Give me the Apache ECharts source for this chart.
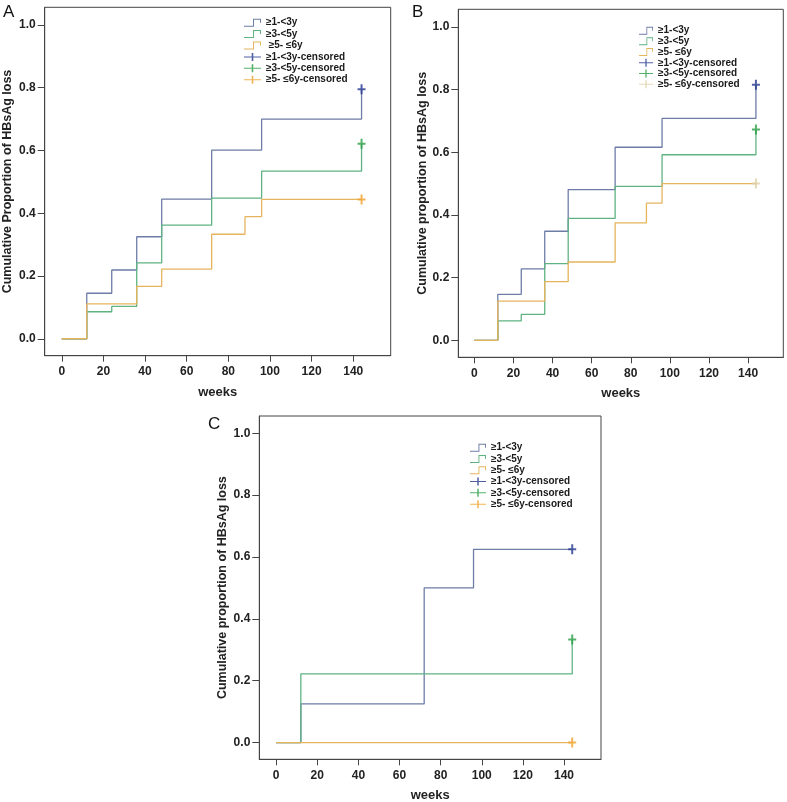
<!DOCTYPE html>
<html><head><meta charset="utf-8">
<script src="https://cdn.jsdelivr.net/npm/echarts@6/dist/echarts.min.js"></script>
<style>html,body{margin:0;padding:0;background:#fff}#c{width:787px;height:802px}</style>
</head><body><div id="c"></div>
<script>
// ---- labels ----
const groupLabels = ['≥1-<3y', '≥3-<5y', '≥5- ≤6y'];
const groupLabelsA = ['≥1-<3y', '≥3-<5y', ' ≥5- ≤6y'];
const censoredSuffix = '-censored';
const panelLetters = ['A', 'B', 'C'];
const yTitles = ['Cumulative Proportion of HBsAg loss', 'Cumulative proportion of HBsAg loss', 'Cumulative proportion of HBsAg loss'];
const xTitle = 'weeks';
const xTicks = [0, 20, 40, 60, 80, 100, 120, 140];
const yTicks = [0, 0.2, 0.4, 0.6, 0.8, 1.0];

// ---- Panel A ----
const A_g1_weeks = [0, 12, 24, 36, 48, 72, 96, 144];
const A_g1_cum   = [0, 0.145, 0.219, 0.325, 0.445, 0.601, 0.700, 0.795];
const A_g2_weeks = [0, 12, 24, 36, 48, 72, 96, 144];
const A_g2_cum   = [0, 0.086, 0.103, 0.242, 0.362, 0.448, 0.534, 0.621];
const A_g3_weeks = [0, 12, 36, 48, 72, 88, 96, 144];
const A_g3_cum   = [0, 0.111, 0.167, 0.222, 0.333, 0.389, 0.444, 0.444];
const A_cens_weeks = [144, 144, 144];
const A_cens_cum   = [0.795, 0.621, 0.444];

// ---- Panel B ----
const B_g1_weeks = [0, 12, 24, 36, 48, 72, 96, 144];
const B_g1_cum   = [0, 0.147, 0.228, 0.348, 0.481, 0.616, 0.708, 0.815];
const B_g2_weeks = [0, 12, 24, 36, 48, 72, 96, 144];
const B_g2_cum   = [0, 0.0625, 0.083, 0.245, 0.389, 0.491, 0.592, 0.673];
const B_g3_weeks = [0, 12, 36, 48, 72, 88, 96, 144];
const B_g3_cum   = [0, 0.125, 0.1875, 0.25, 0.375, 0.4375, 0.5, 0.5];
const B_cens_weeks = [144, 144, 144];
const B_cens_cum   = [0.815, 0.673, 0.5];

// ---- Panel C ----
const C_g1_weeks = [0, 12, 72, 96, 144];
const C_g1_cum   = [0, 0.125, 0.5, 0.625, 0.625];
const C_g2_weeks = [0, 12, 144];
const C_g2_cum   = [0, 0.222, 0.333];
const C_g3_weeks = [0, 144];
const C_g3_cum   = [0, 0];
const C_cens_weeks = [144, 144, 144];
const C_cens_cum   = [0.625, 0.333, 0];

const panels = [
  { g: [[A_g1_weeks, A_g1_cum], [A_g2_weeks, A_g2_cum], [A_g3_weeks, A_g3_cum]], cw: A_cens_weeks, cc: A_cens_cum, labels: groupLabelsA },
  { g: [[B_g1_weeks, B_g1_cum], [B_g2_weeks, B_g2_cum], [B_g3_weeks, B_g3_cum]], cw: B_cens_weeks, cc: B_cens_cum, labels: groupLabels },
  { g: [[C_g1_weeks, C_g1_cum], [C_g2_weeks, C_g2_cum], [C_g3_weeks, C_g3_cum]], cw: C_cens_weeks, cc: C_cens_cum, labels: groupLabels }
];

// ---- styles ----
const lineColors = ['#6e7ca8', '#5fb383', '#e6b45c'];
const censColors = [
  ['#25388e', '#2a9d45', '#f0a02a'],
  ['#25388e', '#2a9d45', '#dccfa5'],
  ['#25388e', '#2a9d45', '#f0a02a']
];
const grids = [
  { left: 44.7, top: 7.3, width: 346, height: 348.4 },
  { left: 458.3, top: 9.3, width: 325, height: 348 },
  { left: 259.3, top: 416, width: 341.7, height: 343.3 }
];
const legendPos = [
  { left: 244, top: 17, w: 17, lh: 11.4 },
  { left: 639, top: 25.3, w: 14, lh: 10.7 },
  { left: 470, top: 442, w: 16, lh: 11.3 }
];
const letterPos = [[3, 4], [412, 4], [208, 416]];
const yNameGap = [31, 29, 30];

const stepIcon = 'path://M0,7L9,7L9,0L17,0L17,4L16,4L16,1L10,1L10,8L0,8Z';
const plusIcon = 'path://M0,3.5L7.7,3.5L7.7,0L9.3,0L9.3,3.5L17,3.5L17,4.5L9.3,4.5L9.3,8L7.7,8L7.7,4.5L0,4.5Z';
const plusMark = 'path://M3,0L5,0L5,4L8,4L8,6L5,6L5,10L3,10L3,6L0,6L0,4L3,4Z';

const narrow = "'Liberation Sans Narrow', 'Arial Narrow', 'Liberation Sans', sans-serif";
const sans = "'Liberation Sans', Arial, sans-serif";

const option = {
  backgroundColor: '#fff',
  animation: false,
  grid: [], xAxis: [], yAxis: [], series: [], legend: [], graphic: []
};
const nameMap = {};

panels.forEach((p, i) => {
  option.grid.push(Object.assign({ show: true, borderColor: '#444', borderWidth: 1, containLabel: false, outerBoundsMode: 'none' }, grids[i]));
  option.xAxis.push({
    type: 'value', gridIndex: i, min: -8.2, max: 158, position: 'bottom',
    name: xTitle, nameLocation: 'middle', nameGap: 30,
    nameTextStyle: { fontFamily: sans, fontWeight: 'bold', fontSize: 13, color: '#222' },
    axisLine: { show: true, onZero: false, lineStyle: { color: '#444', width: 1 } },
    axisTick: { show: true, length: 6, customValues: xTicks, lineStyle: { color: '#444' } },
    axisLabel: { customValues: xTicks, margin: 10, fontFamily: narrow, fontWeight: 'bold', fontSize: 12, color: '#222' },
    splitLine: { show: false }
  });
  option.yAxis.push({
    type: 'value', gridIndex: i, min: -0.054, max: 1.056, position: 'left',
    name: yTitles[i], nameLocation: 'middle', nameGap: yNameGap[i], nameRotate: 90,
    nameTextStyle: { fontFamily: sans, fontWeight: 'bold', fontSize: 12.5, color: '#222' },
    axisLine: { show: true, onZero: false, lineStyle: { color: '#444', width: 1 } },
    axisTick: { show: true, length: 7, customValues: yTicks, lineStyle: { color: '#444' } },
    axisLabel: { customValues: yTicks, margin: 9, formatter: v => v.toFixed(1), fontFamily: narrow, fontWeight: 'bold', fontSize: 12, color: '#222' },
    splitLine: { show: false }
  });
  const legendData = [];
  p.g.forEach((g, k) => {
    const nm = panelLetters[i] + '-g' + k;
    nameMap[nm] = p.labels[k];
    legendData.push({ name: nm, icon: stepIcon });
    option.series.push({
      type: 'line', name: nm, xAxisIndex: i, yAxisIndex: i, step: 'end',
      showSymbol: false, symbol: 'none', color: lineColors[k],
      lineStyle: { color: lineColors[k], width: 1.3 },
      data: g[0].map((w, j) => [w, g[1][j]]),
      z: 2 + k
    });
  });
  p.cw.forEach((w, k) => {
    const nm = panelLetters[i] + '-c' + k;
    nameMap[nm] = groupLabels[k] + censoredSuffix;
    legendData.push({ name: nm, icon: plusIcon });
    option.series.push({
      type: 'scatter', name: nm, xAxisIndex: i, yAxisIndex: i,
      symbol: plusMark, symbolSize: [8, 10], color: censColors[i][k],
      itemStyle: { color: censColors[i][k] },
      data: [[w, p.cc[k]]], z: 6
    });
  });
  const lp = legendPos[i];
  option.legend.push({
    orient: 'vertical', left: lp.left, top: lp.top, padding: 0,
    itemWidth: lp.w, itemHeight: 8, itemGap: 0, symbolKeepAspect: false,
    selectedMode: false,
    itemStyle: { borderWidth: 0 },
    textStyle: { fontFamily: sans, fontWeight: 'bold', fontSize: 10, color: '#1a1a1a', lineHeight: lp.lh },
    formatter: n => nameMap[n],
    data: legendData
  });
  option.graphic.push({
    type: 'text', left: letterPos[i][0], top: letterPos[i][1],
    style: { text: panelLetters[i], font: '17px ' + sans, fill: '#111' }
  });
});

const chart = echarts.init(document.getElementById('c'), null, { renderer: 'canvas' });
chart.setOption(option);
</script>
</body></html>
